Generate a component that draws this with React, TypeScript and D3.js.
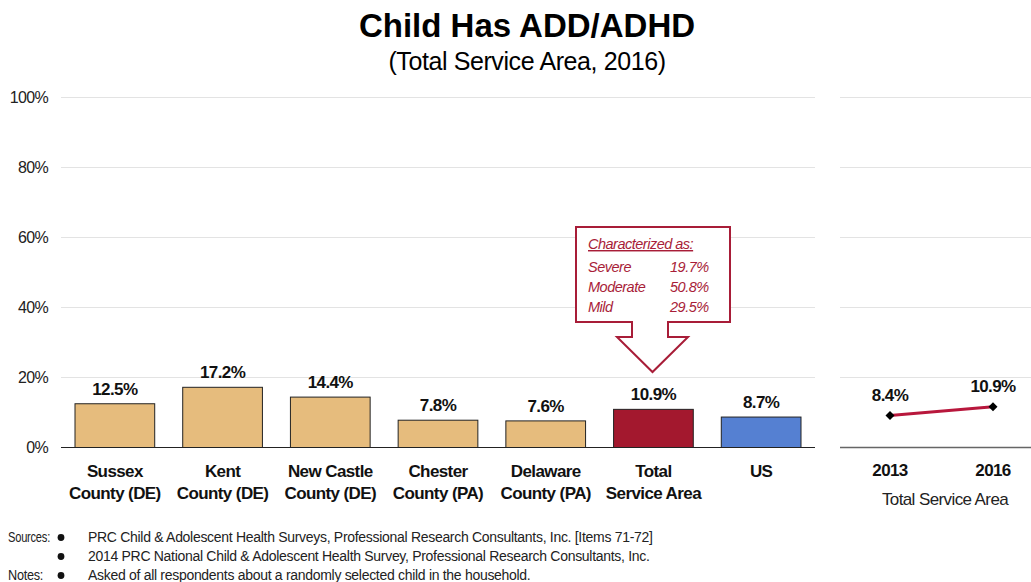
import React from "react";
import * as d3 from "d3";

const categories = [
  ["Sussex", "County (DE)"],
  ["Kent", "County (DE)"],
  ["New Castle", "County (DE)"],
  ["Chester", "County (PA)"],
  ["Delaware", "County (PA)"],
  ["Total", "Service Area"],
  ["US"],
];
const values = [12.5, 17.2, 14.4, 7.8, 7.6, 10.9, 8.7];
const barColors = ["#E6BC7D", "#E6BC7D", "#E6BC7D", "#E6BC7D", "#E6BC7D", "#A3182E", "#5580D2"];
const yTicks = [0, 20, 40, 60, 80, 100];
const trendYears = ["2013", "2016"];
const trendValues = [8.4, 10.9];
const calloutRows = [
  ["Severe", "19.7%"],
  ["Moderate", "50.8%"],
  ["Mild", "29.5%"],
];
const sources = [
  "PRC Child & Adolescent Health Surveys, Professional Research Consultants, Inc.  [Items 71-72]",
  "2014 PRC National Child & Adolescent Health Survey, Professional Research Consultants, Inc.",
];
const notes = ["Asked of all respondents about a randomly selected child in the household."];

const FONT = "'Liberation Sans', Arial, sans-serif";
const CRIMSON = "#A81D38";

export default function App() {
  const W = 1031, H = 582;
  const y = d3.scaleLinear().domain([0, 100]).range([447.5, 97.5]);
  const yT = d3.scaleLinear().domain([0, 100]).range([445.5, 95.5]);
  const x = d3.scaleBand<number>().domain(d3.range(values.length)).range([61, 815]).paddingInner(0.26).paddingOuter(0.13);
  const x2 = d3.scalePoint<string>().domain(trendYears).range([890, 993]);
  const line = d3.line<number>().x((_, i) => x2(trendYears[i])!).y((v) => yT(v) - 0.5);

  // callout geometry
  const bx0 = 576, bx1 = 730, by0 = 227, by1 = 322;
  const sx0 = 632, sx1 = 668, sy = 337, ax0 = 617, ax1 = 688, tipX = 652.5, tipY = 372;
  const calloutPath = `M${bx0},${by0} H${bx1} V${by1} H${sx1} V${sy} H${ax1} L${tipX},${tipY} L${ax0},${sy} H${sx0} V${by1} H${bx0} Z`;

  return (
    <svg width={W} height={H} style={{ display: "block", position: "absolute", left: 0, top: 0 }} fontFamily={FONT}>
      <rect width={W} height={H} fill="#fff" />
      <text x={527} y={37} textAnchor="middle" fontSize={33} fontWeight="bold" fill="#000">Child Has ADD/ADHD</text>
      <text x={527} y={70} textAnchor="middle" fontSize={25} fill="#000" letterSpacing={-0.4}>(Total Service Area, 2016)</text>

      {/* gridlines main */}
      {yTicks.filter((t) => t > 0).map((t) => (
        <line key={t} x1={61} x2={815} y1={y(t)} y2={y(t)} stroke="#e3e3e3" strokeWidth={1} />
      ))}
      {yTicks.map((t) => (
        <text key={t} x={48} y={y(t) + 5} textAnchor="end" fontSize={16} fill="#222" letterSpacing={-0.7}>{t}%</text>
      ))}
      {/* gridlines trend */}
      {yTicks.filter((t) => t > 0).map((t) => (
        <line key={"r" + t} x1={840} x2={1031} y1={y(t)} y2={y(t)} stroke="#e3e3e3" strokeWidth={1} />
      ))}

      {/* bars */}
      {values.map((v, i) => (
        <g key={i}>
          <rect x={x(i)} y={y(v)} width={x.bandwidth()} height={y(0) - y(v)} fill={barColors[i]} stroke="#222" strokeWidth={1} />
          <text x={x(i)! + x.bandwidth() / 2} y={y(v) - 9} textAnchor="middle" fontSize={17} fontWeight="bold" fill="#111" letterSpacing={-0.6}>{v.toFixed(1)}%</text>
          {categories[i].map((ln, j) => (
            <text key={j} x={x(i)! + x.bandwidth() / 2} y={477 + j * 22} textAnchor="middle" fontSize={17} fontWeight="bold" fill="#111" letterSpacing={-0.6}>{ln}</text>
          ))}
        </g>
      ))}
      <line x1={61} x2={815} y1={y(0)} y2={y(0)} stroke="#222" strokeWidth={1.2} />

      {/* trend */}
      <line x1={840} x2={1031} y1={y(0)} y2={y(0)} stroke="#666" strokeWidth={1.5} />
      <path d={line(trendValues) || ""} fill="none" stroke="#B8173C" strokeWidth={3} />
      {trendValues.map((v, i) => {
        const cx = x2(trendYears[i])!, cy = yT(v) - 0.5;
        return (
          <g key={i}>
            <path d={`M${cx},${cy - 4.5} L${cx + 4.5},${cy} L${cx},${cy + 4.5} L${cx - 4.5},${cy} Z`} fill="#000" />
            <text x={cx} y={cy - 15} textAnchor="middle" fontSize={17} fontWeight="bold" fill="#111" letterSpacing={-0.6}>{v.toFixed(1)}%</text>
            <text x={cx} y={476} textAnchor="middle" fontSize={17} fontWeight="bold" fill="#111" letterSpacing={-0.6}>{trendYears[i]}</text>
          </g>
        );
      })}
      <text x={945} y={505} textAnchor="middle" fontSize={17} fill="#222" letterSpacing={-0.6}>Total Service Area</text>

      {/* callout */}
      <path d={calloutPath} fill="#fff" stroke={CRIMSON} strokeWidth={2} />
      <text x={588} y={249} fontSize={14.5} fontStyle="italic" fill={CRIMSON} textDecoration="underline" letterSpacing={-0.5}>Characterized as:</text>
      {calloutRows.map((r, i) => (
        <g key={i}>
          <text x={588} y={272 + i * 20} fontSize={14.5} fontStyle="italic" fill={CRIMSON} letterSpacing={-0.5}>{r[0]}</text>
          <text x={670} y={272 + i * 20} fontSize={14.5} fontStyle="italic" fill={CRIMSON} letterSpacing={-0.5}>{r[1]}</text>
        </g>
      ))}

      {/* footnotes */}
      <g fontSize={14} fill="#222" letterSpacing={-0.3}>
        <text x={8} y={542} textLength={42} lengthAdjust="spacingAndGlyphs">Sources:</text>
        {sources.map((s, i) => (
          <g key={i}>
            <circle cx={61} cy={537.5 + i * 19} r={3.4} fill="#111" />
            <text x={88} y={542 + i * 19}>{s}</text>
          </g>
        ))}
        <text x={8} y={580} textLength={35} lengthAdjust="spacingAndGlyphs">Notes:</text>
        {notes.map((s, i) => (
          <g key={i}>
            <circle cx={61} cy={575.5} r={3.4} fill="#111" />
            <text x={88} y={580}>{s}</text>
          </g>
        ))}
      </g>
    </svg>
  );
}
